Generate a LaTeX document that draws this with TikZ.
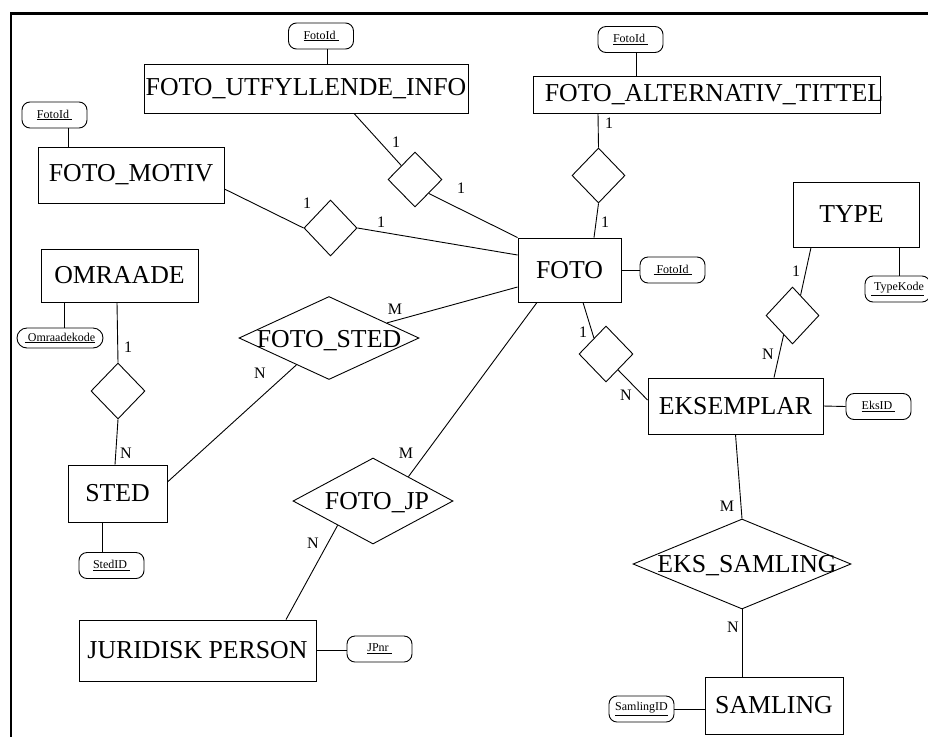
\documentclass[tikz,border=0pt]{standalone}
\usepackage{fontspec}
\setmainfont{Liberation Serif}
\usetikzlibrary{shapes.geometric,calc}

\tikzset{
  enttext/.style={font=\fontsize{25.8}{30}\selectfont},
  ent/.style={draw, rectangle, inner sep=0, enttext},
  attr/.style={draw, rectangle, rounded corners=8, inner sep=0,
    minimum width=65, minimum height=26, font=\fontsize{12}{14}\selectfont},
  rel/.style={draw, diamond, inner sep=0},
  card/.style={inner sep=0, font=\fontsize{16}{18}\selectfont},
}

\begin{document}
\begin{tikzpicture}[x=1pt, y=-1pt, line width=0.9pt]
\useasboundingbox (0,0) rectangle (928,737);

% page frame
\draw[line width=2.5pt] (928,13.5) -- (11,13.5) -- (11,737);

% entities
\node[ent, minimum width=324, minimum height=49] (utf) at (306,88.5) {FOTO\_UTFYLLENDE\_INFO};
\node[ent, minimum width=347, minimum height=37,
  label={[enttext, xshift=7.5]center:FOTO\_ALTERNATIV\_TITTEL}] (alt) at (706.5,94.5) {};
\node[ent, minimum width=186, minimum height=56] (motiv) at (131,175) {FOTO\_MOTIV};
\node[ent, minimum width=157, minimum height=53] (omr) at (119.5,275.5) {OMRAADE};
\node[ent, minimum width=99, minimum height=57] (sted) at (117.5,493.5) {STED};
\node[ent, minimum width=103, minimum height=64] (foto) at (569.5,270) {FOTO};
\node[ent, minimum width=126, minimum height=65,
  label={[enttext, xshift=-4.5]center:TYPE}] (type) at (856,214.5) {};
\node[ent, minimum width=175, minimum height=56] (eks) at (735.5,406) {EKSEMPLAR};
\node[ent, minimum width=237, minimum height=61] (jur) at (197.5,650.5) {JURIDISK PERSON};
\node[ent, minimum width=138, minimum height=57] (saml) at (774,705.5) {SAMLING};

% key attributes
\node[attr] (aUtf) at (321,36) {\underline{FotoId\ }};
\node[attr] (aAlt) at (630.5,39.5) {\underline{FotoId\ }};
\node[attr] (aMot) at (54.5,115) {\underline{FotoId\ }};
\node[attr, minimum width=86, minimum height=20, rounded corners=10] (aOmr) at (60,338) {\underline{\ Omraadekode}};
\node[attr] (aSted) at (111.5,565.5) {\underline{StedID\ }};
\node[attr] (aFoto) at (672.5,270) {\underline{\ FotoId\ }};
\node[attr] (aType) at (897.5,289) {\underline{\ TypeKode}};
\node[attr] (aEks) at (878.5,406.5) {\underline{EksID\ }};
\node[attr] (aJur) at (379.5,649) {\underline{JPnr\ }};
\node[attr] (aSaml) at (641.5,709) {\underline{SamlingID}};

% relationships
\node[rel, minimum width=53, minimum height=56] (dMot) at (330.5,228) {};
\node[rel, minimum width=54, minimum height=55] (dUtf) at (415,179.5) {};
\node[rel, minimum width=53, minimum height=55] (dAlt) at (598.5,175.5) {};
\node[rel, minimum width=53, minimum height=57] (dType) at (792.5,315.5) {};
\node[rel, minimum width=54, minimum height=56] (dEks) at (606,354) {};
\node[rel, minimum width=54, minimum height=56] (dOmr) at (118,391) {};
\node[rel, minimum width=180, minimum height=83,
  label={[enttext, yshift=-3]center:FOTO\_STED}] (dSted) at (329,338) {};
\node[rel, minimum width=160, minimum height=86,
  label={[enttext, xshift=4, yshift=-2]center:FOTO\_JP}] (dJp) at (373,501) {};
\node[rel, minimum width=218, minimum height=90,
  label={[enttext, xshift=5, yshift=-2]center:EKS\_SAMLING}] (dSam) at (742,564) {};

% attribute links
\draw ([xshift=6]aUtf.south) -- ([xshift=21]utf.north);
\draw ([xshift=5.5]aAlt.south) -- ([xshift=-70.5]alt.north);
\draw ([xshift=13.5]aMot.south) -- ([xshift=-63]motiv.north);
\draw ([xshift=-55.5]omr.south) -- ([xshift=4]aOmr.north);
\draw ([xshift=-15.5]sted.south) -- ([xshift=-9.5]aSted.north);
\draw ([xshift=43]type.south) -- ([xshift=1.5]aType.north);
\draw (foto.east) -- (aFoto.west);
\draw (eks.east) -- (aEks.west);
\draw (jur.east) -- (jur.east -| aJur.west);
\draw (aSaml.east) -- (aSaml.east -| saml.west);

% relationship links
\draw ([yshift=-14]motiv.east) -- (dMot.west);
\draw (dMot.east) -- ([yshift=15]foto.west);
\draw ([xshift=48]utf.south) -- (dUtf.north west);
\draw (dUtf.south east) -- (foto.north west);
\draw ([xshift=-108.5]alt.south) -- (dAlt.north);
\draw (dAlt.south) -- ([xshift=24.5]foto.north);
\draw ([xshift=-45]type.south) -- ($(dType.north)!0.3!(dType.east)$);
\draw ($(dType.south)!0.33!(dType.west)$) -- ([xshift=38.5]eks.north);
\draw ([xshift=13.5]foto.south) -- ($(dEks.north)!0.44!(dEks.west)$);
\draw ($(dEks.south)!0.44!(dEks.east)$) -- ([yshift=6]eks.west);
\draw ([xshift=-2.5]omr.south) -- (dOmr.north);
\draw (dOmr.south) -- ([xshift=-2.5]sted.north);
\draw ($(dSted.north)!0.64!(dSted.east)$) -- ([yshift=-17]foto.west);
\draw ($(dSted.west)!0.64!(dSted.south)$) -- ([yshift=11.5]sted.east);
\draw ([xshift=-32.5]foto.south) -- ($(dJp.north)!0.44!(dJp.east)$);
\draw ($(dJp.west)!0.56!(dJp.south)$) -- ([xshift=88.5]jur.north);
\draw (eks.south) -- (dSam.north);
\draw (dSam.south) -- (dSam.south |- saml.north);

% cardinalities
\node[card] (c1) at (307,203) {1};
\node[card] (c2) at (381,222) {1};
\node[card] (c3) at (396,142) {1};
\node[card] (c4) at (461,188) {1};
\node[card] (c5) at (609,123) {1};
\node[card] (c6) at (605,222) {1};
\node[card] (c7) at (796,271) {1};
\node[card] (c8) at (768,354) {N};
\node[card] (c9) at (583,332) {1};
\node[card] (c10) at (626,395) {N};
\node[card] (c11) at (128,347) {1};
\node[card] (c12) at (126,453) {N};
\node[card] (c13) at (395,309) {M};
\node[card] (c14) at (260,373) {N};
\node[card] (c15) at (406,453) {M};
\node[card] (c16) at (313,543) {N};
\node[card] (c17) at (727,506) {M};
\node[card] (c18) at (733,627) {N};
\end{tikzpicture}
\end{document}
